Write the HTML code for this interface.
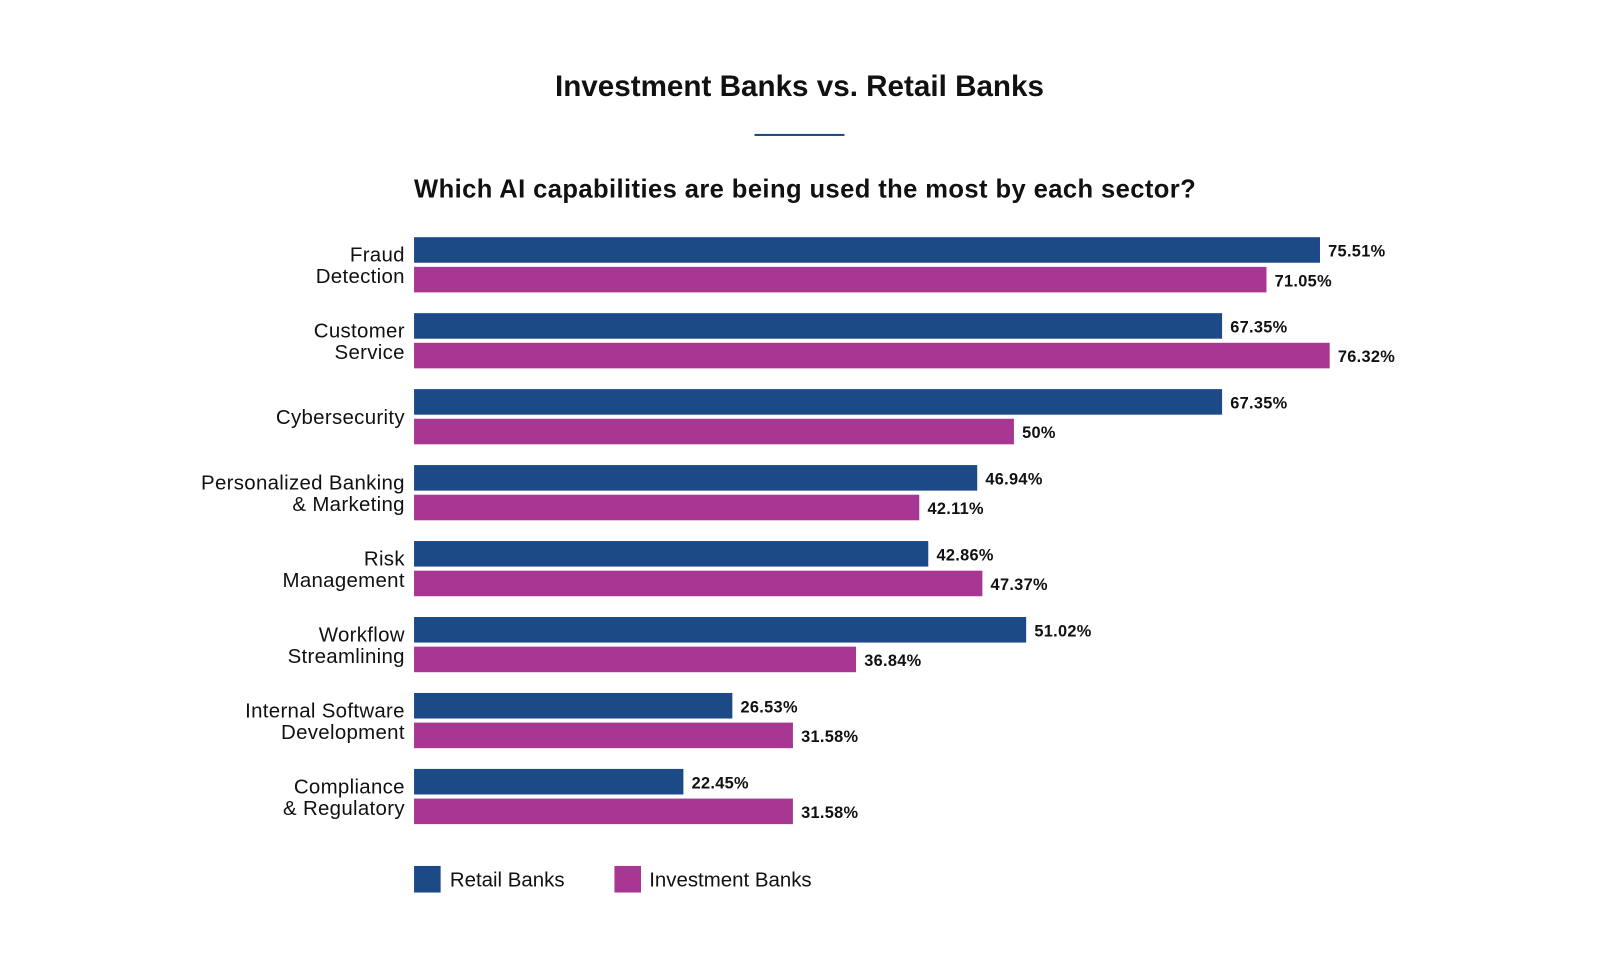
<!DOCTYPE html>
<html><head><meta charset="utf-8"><style>
body{margin:0;width:1600px;height:960px;background:#fff;font-family:"Liberation Sans",sans-serif;overflow:hidden}
</style></head><body>
<svg width="1600" height="960" viewBox="0 0 1565 939" xmlns="http://www.w3.org/2000/svg">
<text x="782" y="94" text-anchor="middle" font-size="29" font-weight="bold" fill="#111">Investment Banks vs. Retail Banks</text>
<rect x="738" y="131" width="88" height="2" fill="#1c4a87"/>
<text x="405" y="193" font-size="25" letter-spacing="0.4" font-weight="bold" fill="#111">Which AI capabilities are being used the most by each sector?</text>
<g id="bars"></g>
<rect x="405" y="847" width="26" height="26" fill="#1c4a87"/>
<text x="440" y="867" font-size="20" fill="#111">Retail Banks</text>
<rect x="601" y="847" width="26" height="26" fill="#a83793"/>
<text x="635" y="867" font-size="20" fill="#111">Investment Banks</text>
</svg>
<script>
const categories=[["Fraud","Detection"],["Customer","Service"],["Cybersecurity"],["Personalized Banking","& Marketing"],["Risk","Management"],["Workflow","Streamlining"],["Internal Software","Development"],["Compliance","& Regulatory"]];
const retail=[75.51,67.35,67.35,46.94,42.86,51.02,26.53,22.45];
const investment=[71.05,76.32,50,42.11,47.37,36.84,31.58,31.58];
const NS="http://www.w3.org/2000/svg";
const g=document.getElementById('bars');
const x0=405, pxPer=11.735;
const xs=v=>v*pxPer;
const groupY=i=>232+i*74.3;
function mk(tag,attrs){const e=document.createElementNS(NS,tag);for(const k in attrs)e.setAttribute(k,attrs[k]);g.appendChild(e);return e;}
categories.forEach((c,i)=>{
  const y=groupY(i);
  [[retail[i],'#1c4a87',0,'retail'],[investment[i],'#a83793',29,'investment']].forEach(([v,col,off,s])=>{
    const r=mk('rect',{x:x0,y:y+off,width:xs(v),height:25,fill:col});
    
    
    const t=mk('text',{x:x0+xs(v)+8,y:y+off+19,'font-size':16,'font-weight':'bold','letter-spacing':0.3,fill:'#111'});
    t.textContent=v+'%';
    
    
  });
  const cy=y+27;
  c.forEach((ln,j)=>{
    const t=mk('text',{x:396,y:(c.length===1?cy+7:cy-3+j*21),'text-anchor':'end','font-size':20,'letter-spacing':0.3,fill:'#111'});
    t.textContent=ln;
    
    
  });
});
</script>
</body></html>
